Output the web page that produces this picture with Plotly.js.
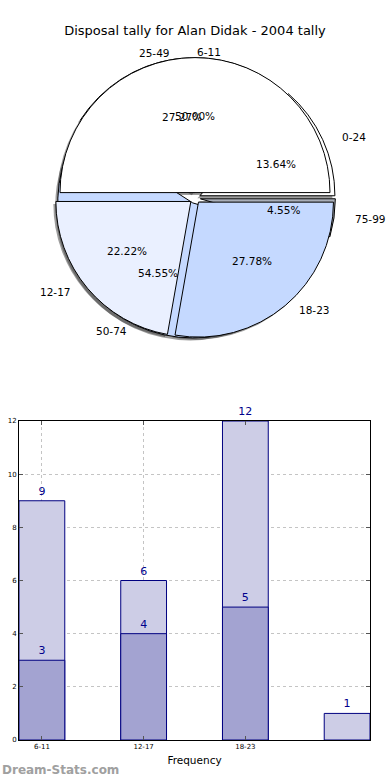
<!DOCTYPE html>
<html><head><meta charset="utf-8">
<script src="https://cdn.plot.ly/plotly-3.0.1.min.js"></script>
<style>html,body{margin:0;padding:0;background:#fff}#chart{width:390px;height:780px}</style>
</head><body><div id="chart"></div>
<script>
// ---- data ----
const chartTitle = 'Disposal tally for Alan Didak - 2004 tally';
const disposalRanges = ['0-24', '25-49', '50-74', '75-99'];
const disposalCounts = [3, 6, 12, 1];
const kickRanges = ['6-11', '12-17', '18-23'];
const kickCounts = [9, 4, 5];
const barLabels = ['6-11', '12-17', '18-23', ''];
const barTotals = [9, 6, 12, 1];
const barLower = [3, 4, 5];
const barAxisTitle = 'Frequency';
const watermark = 'Dream-Stats.com';

// ---- styles / geometry ----
const FONT = 'DejaVu Sans';
const M = {l: 19, r: 20, t: 0, b: 40};
const PW = 390 - M.l - M.r, PH = 780 - M.t - M.b;
const xp = px => (px - M.l) / PW;
const yp = py => (PH + M.t - py) / PH;
const CX = 195, CY = 198, R = 135, RX = 140, RY = 128;

const disposalColors = ['#ffffff', '#ffffff', '#c5d9ff', '#a9aeb8'];
const disposalPull = [0.04, 0.04, 0.04, 0.04];
const kickColors = ['#ffffff', '#eaf0ff', '#c5d9ff'];
const kickPull = [0.04, 0.04, 0.04];

function domainFor(pulls, dx, dy) {
  const half = R * (1 + Math.max(...pulls));
  return {
    x: [xp(CX + dx - half), xp(CX + dx + half)],
    y: [yp(CY + dy + half), yp(CY + dy - half)]
  };
}
function pieTrace(labels, values, colors, pulls, dx, dy, lineW) {
  const tot = values.reduce((a, b) => a + b, 0);
  return {
    type: 'pie', labels: labels, values: values, sort: false,
    // first slice starts at 3 o'clock and runs counter-clockwise (matplotlib style)
    direction: 'counterclockwise', rotation: 90 - 360 * values[0] / tot,
    pull: pulls, textinfo: 'none', hoverinfo: 'skip', showlegend: false,
    marker: {colors: colors, line: {color: lineW ? '#000' : 'rgba(0,0,0,0)', width: lineW}},
    domain: domainFor(pulls, dx, dy)
  };
}
const shadowCol = 'rgba(60,60,60,0.5)';
const traces = [
  pieTrace(disposalRanges, disposalCounts, disposalCounts.map(() => shadowCol), disposalPull, -2.5, 2.5, 0),
  pieTrace(kickRanges, kickCounts, kickCounts.map(() => shadowCol), kickPull, -2.5, 2.5, 0),
  pieTrace(disposalRanges, disposalCounts, disposalColors, disposalPull, 0, 0, 1),
  pieTrace(kickRanges, kickCounts, kickColors, kickPull, 0, 0, 1)
];

// labels for pies (matplotlib-style placement)
const annotations = [];
function pieLabels(labels, values, pulls) {
  const tot = values.reduce((a, b) => a + b, 0);
  let start = 0;
  values.forEach((v, i) => {
    const ang = (start + v / tot * 180) * Math.PI / 180; // mid angle, ccw from east
    start += v / tot * 360;
    const c = Math.cos(ang), s = Math.sin(ang);
    const e = pulls[i] * R;
    const ox = CX + e * c, oy = CY - e * s;
    annotations.push({
      xref: 'paper', yref: 'paper', x: xp(ox + 1.1 * RX * c), y: yp(oy - 1.1 * RY * s),
      text: labels[i], showarrow: false, xanchor: c > 0 ? 'left' : 'right', yanchor: 'middle',
      font: {family: FONT, size: 10.5, color: '#000'}
    });
    annotations.push({
      xref: 'paper', yref: 'paper', x: xp(ox + 0.6 * RX * c), y: yp(oy - 0.6 * RY * s),
      text: (v / tot * 100).toFixed(2) + '%', showarrow: false, xanchor: 'center', yanchor: 'middle',
      font: {family: FONT, size: 10.5, color: '#000'}
    });
  });
}
pieLabels(disposalRanges, disposalCounts, disposalPull);
pieLabels(kickRanges, kickCounts, kickPull);

annotations.push({
  xref: 'paper', yref: 'paper', x: xp(0), y: yp(770), xanchor: 'left', yanchor: 'middle',
  text: watermark, showarrow: false,
  font: {family: FONT, size: 12, color: '#a0a0a0', weight: 'bold'}
});

// bar chart
const barW = 0.45;
const barX = barTotals.map((_, i) => i + barW / 2);
traces.push({
  type: 'bar', x: barX, y: barTotals, width: barW, xaxis: 'x', yaxis: 'y',
  marker: {color: '#cdcde6', line: {color: '#000080', width: 1}},
  text: barTotals.map(String), textposition: 'outside', cliponaxis: false, constraintext: 'none',
  textfont: {family: FONT, size: 11, color: '#00008b'},
  hoverinfo: 'skip', showlegend: false
});
traces.push({
  type: 'bar', x: barX.slice(0, barLower.length), y: barLower, width: barW, xaxis: 'x', yaxis: 'y',
  marker: {color: '#a3a3d1', line: {color: '#000080', width: 1}},
  text: barLower.map(String), textposition: 'outside', cliponaxis: false, constraintext: 'none',
  textfont: {family: FONT, size: 11, color: '#00008b'},
  hoverinfo: 'skip', showlegend: false
});

const gridStyle = {showgrid: true, gridcolor: '#c4c4c4', griddash: 'dot', gridwidth: 1};
const layout = {
  width: 390, height: 780, margin: M, paper_bgcolor: '#fff', plot_bgcolor: '#fff',
  font: {family: FONT, color: '#000'},
  title: {text: chartTitle, x: 0.5, xref: 'container', xanchor: 'center', y: 1 - 30 / 780, yref: 'container', yanchor: 'middle',
          font: {family: FONT, size: 13, color: '#000'}},
  barmode: 'overlay', showlegend: false,
  xaxis: Object.assign({
    domain: [0, 1], range: [0, barTotals.length - 1 + barW], tickmode: 'array',
    tickvals: barX.slice(0, 3), ticktext: barLabels.slice(0, 3),
    ticks: 'inside', ticklen: 4, tickcolor: '#555', showline: true, linecolor: '#000', linewidth: 1, mirror: 'ticks',
    zeroline: false, tickfont: {family: FONT, size: 7, color: '#000'},
    title: {text: barAxisTitle, font: {family: FONT, size: 10.5, color: '#000'}, standoff: 6}
  }, gridStyle),
  yaxis: Object.assign({
    domain: [yp(740), yp(421)], range: [0, 12], dtick: 2, tick0: 0,
    ticks: 'inside', ticklen: 4, tickcolor: '#555', showline: true, linecolor: '#000', linewidth: 1, mirror: 'ticks',
    zeroline: false, tickfont: {family: FONT, size: 7, color: '#000'}
  }, gridStyle),
  annotations: annotations
};
Plotly.newPlot('chart', traces, layout, {staticPlot: true, displayModeBar: false});
</script></body></html>
